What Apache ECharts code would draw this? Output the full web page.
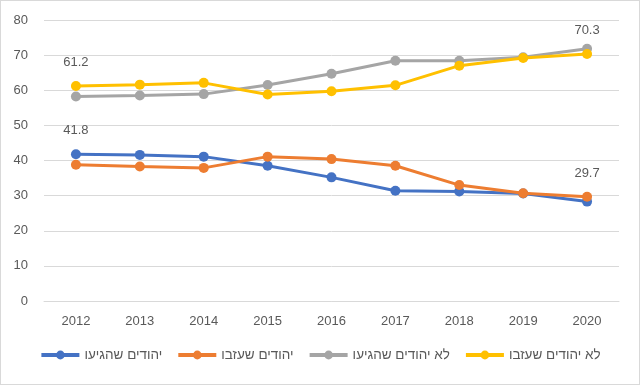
<!DOCTYPE html>
<html><head><meta charset="utf-8">
<script src="https://cdn.jsdelivr.net/npm/echarts@6/dist/echarts.min.js"></script>
<style>html,body{margin:0;padding:0;background:#fff}#c{width:638px;height:383px;border:1px solid #d9d9d9}</style>
</head><body><div id="c"></div>
<script>
const years = ['2012','2013','2014','2015','2016','2017','2018','2019','2020'];
const seriesNames = ['יהודים שהגיעו','יהודים שעזבו','לא יהודים שהגיעו','לא יהודים שעזבו'];
const jewsArrived = [41.8, 41.6, 41.1, 38.5, 35.2, 31.4, 31.2, 30.6, 28.3];
const jewsLeft = [38.8, 38.3, 37.9, 41.1, 40.4, 38.5, 33.0, 30.7, 29.7];
const nonJewsArrived = [58.2, 58.5, 58.9, 61.5, 64.7, 68.4, 68.4, 69.4, 71.8];
const nonJewsLeft = [61.2, 61.6, 62.1, 58.8, 59.7, 61.4, 67.0, 69.2, 70.3];
const colors = ['#4472C4','#ED7D31','#A5A5A5','#FFC000'];
const labelIdx = [[0],[8],[],[0,8]];
const allData = [jewsArrived, jewsLeft, nonJewsArrived, nonJewsLeft];
const font = '"Liberation Sans", "DejaVu Sans", sans-serif';
const chart = echarts.init(document.getElementById('c'), null, {renderer:'canvas'});
chart.setOption({
  animation:false,
  color: colors,
  textStyle:{fontFamily:font},
  grid:{left:43, right:20, top:19, bottom:83},
  xAxis:{type:'category', data:years, boundaryGap:true,
    axisLine:{lineStyle:{color:'#d9d9d9'}}, axisTick:{show:false},
    axisLabel:{color:'#595959', fontSize:13, margin:14, fontFamily:font}},
  yAxis:{type:'value', min:0, max:80, interval:10,
    axisLine:{show:false}, axisTick:{show:false},
    splitLine:{lineStyle:{color:'#d9d9d9'}},
    axisLabel:{color:'#595959', fontSize:13, margin:16, fontFamily:font}},
  legend:{bottom:17, left:'center', itemWidth:38, itemHeight:11, itemGap:14,
    textStyle:{color:'#595959', fontSize:13.5, fontFamily:font},
    lineStyle:{width:4},
    data:seriesNames},
  series: allData.map((d,i)=>({
    name: seriesNames[i], type:'line', data: d.map((v,j)=>({
      value:v,
      label:{show: labelIdx[i].includes(j), position:'top', distance:12, color:'#595959', fontSize:13, fontFamily:font}
    })),
    symbol:'circle', symbolSize:10, lineStyle:{width:3}, z: i+2
  }))
});
</script></body></html>
